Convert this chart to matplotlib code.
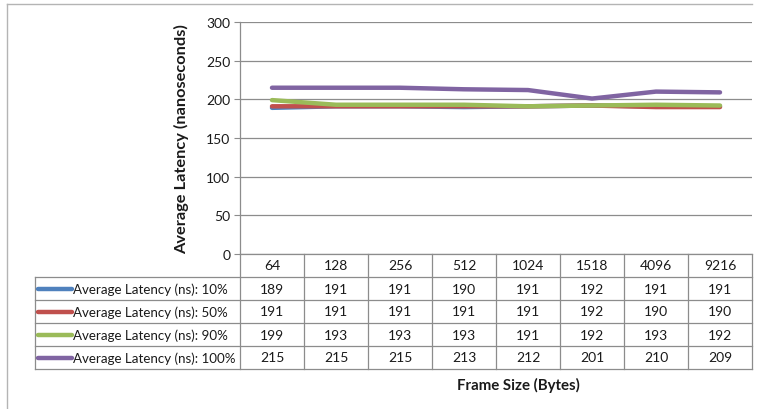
import matplotlib
matplotlib.use("Agg")
import matplotlib.pyplot as plt

plt.rcParams["font.family"] = ["Lato", "DejaVu Sans"]

# -- Data ---------------------------------------------------------------------

frame_sizes = ["64", "128", "256", "512", "1024", "1518", "4096", "9216"]
series_names = [
    "Average Latency (ns): 10%",
    "Average Latency (ns): 50%",
    "Average Latency (ns): 90%",
    "Average Latency (ns): 100%",
]
lat_10 = [189, 191, 191, 190, 191, 192, 191, 191]
lat_50 = [191, 191, 191, 191, 191, 192, 190, 190]
lat_90 = [199, 193, 193, 193, 191, 192, 193, 192]
lat_100 = [215, 215, 215, 213, 212, 201, 210, 209]
series = [lat_10, lat_50, lat_90, lat_100]
colors = ["#4F81BD", "#C0504D", "#9BBB59", "#8064A2"]

GRID = "#8C8C8C"
TXT = "#1A1A1A"
FS = 10
W, H = 761, 410


def fx(px):
    return px / W


def fy(py):
    return 1 - py / H


fig = plt.figure(figsize=(W / 100, H / 100), dpi=100)

# outer chart frame
fig.add_artist(plt.Line2D([fx(7), fx(752)], [fy(5), fy(5)], color="#B4B4B4", lw=1))
fig.add_artist(plt.Line2D([fx(7), fx(7)], [fy(5), fy(410)], color="#B4B4B4", lw=1))

# -- Plot area ----------------------------------------------------------------

ax = fig.add_axes([fx(240), fy(255), fx(752) - fx(240), fy(23) - fy(255)])
n = len(frame_sizes)
xs = [i + 0.5 for i in range(n)]
for vals, c in zip(series, colors):
    ax.plot(xs, vals, color=c, lw=3.2, solid_capstyle="round")
ax.set_xlim(0, n)
ax.set_ylim(0, 300)
ax.set_yticks(range(0, 301, 50))
ax.set_xticks([])
ax.grid(axis="y", color=GRID, lw=0.9)
ax.set_axisbelow(True)
for s in ["top", "right"]:
    ax.spines[s].set_visible(False)
for s in ["left", "bottom"]:
    ax.spines[s].set_color(GRID)
    ax.spines[s].set_linewidth(0.9)
ax.tick_params(axis="y", length=4, color=GRID, labelsize=FS, pad=3, labelcolor=TXT)
ax.set_ylabel("Average Latency (nanoseconds)", fontsize=11.8, fontweight="bold",
              labelpad=12, color=TXT)

# -- Data table ---------------------------------------------------------------

col_w = 64
label_w = (240 - 35) / col_w
tax = fig.add_axes([fx(35), fy(370), fx(752) - fx(35), fy(255) - fy(370)])
tax.set_xlim(-label_w, n)
tax.set_ylim(5, 0)
tax.axis("off")

lk = dict(color=GRID, lw=0.9, clip_on=False)
for r in range(1, 6):
    tax.plot([-label_w, n], [r, r], **lk)
for c in range(n + 1):
    tax.plot([c, c], [0, 5], **lk)
tax.plot([-label_w, -label_w], [1, 5], **lk)

for c, size in enumerate(frame_sizes):
    tax.text(c + 0.5, 0.5, size, ha="center", va="center", fontsize=FS, color=TXT)

for r, (name, vals, col) in enumerate(zip(series_names, series, colors), start=1):
    x0 = (38 - 240) / col_w
    x1 = (72 - 240) / col_w
    tax.plot([x0, x1], [r + 0.5, r + 0.5], color=col, lw=3.2, solid_capstyle="round",
             clip_on=False)
    tax.text(x1 + 0.02, r + 0.5, name, ha="left", va="center", fontsize=9.6, color=TXT)
    for c, v in enumerate(vals):
        tax.text(c + 0.5, r + 0.5, str(v), ha="center", va="center", fontsize=FS,
                 color=TXT)

fig.text(fx(518), fy(385), "Frame Size (Bytes)", ha="center", va="center",
         fontsize=10.8, fontweight="bold", color=TXT)

fig.savefig("out.png", dpi=100)
